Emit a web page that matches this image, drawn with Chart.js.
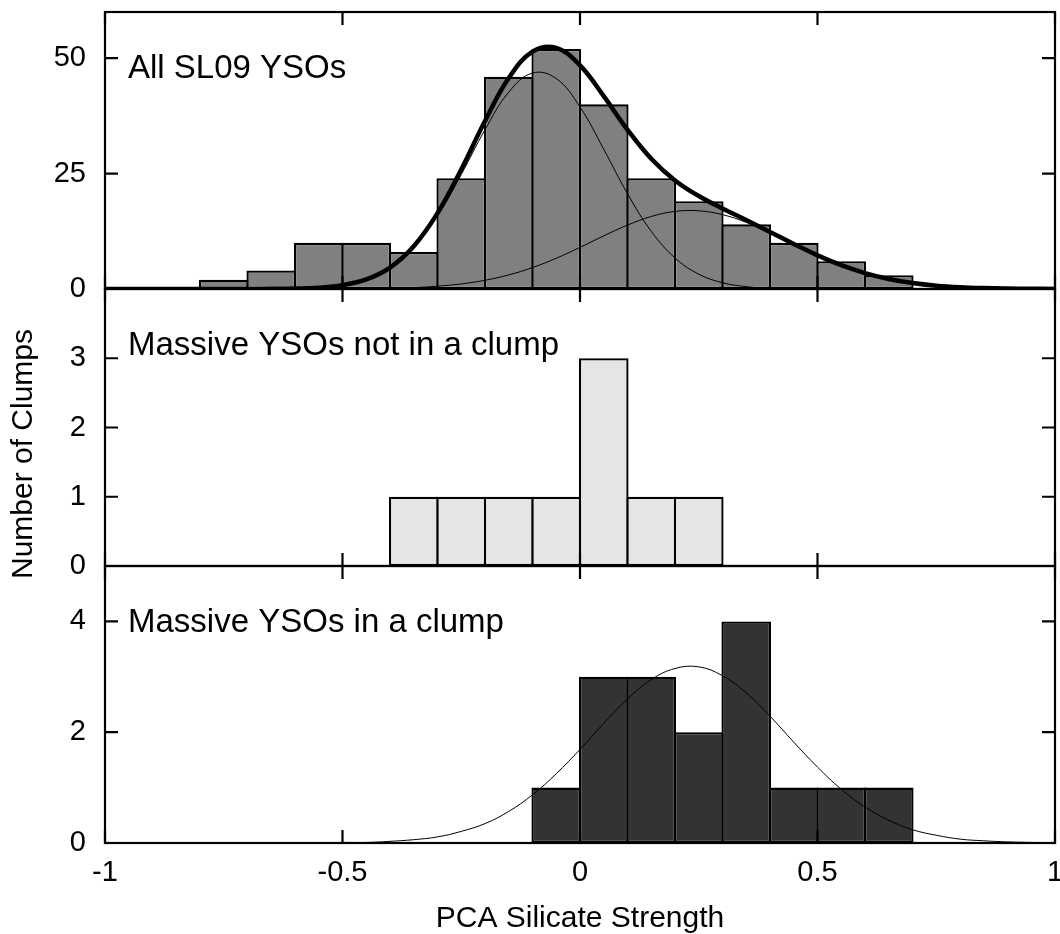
<!DOCTYPE html>
<html>
<head>
<meta charset="utf-8">
<script src="https://cdn.jsdelivr.net/npm/chart.js@4/dist/chart.umd.min.js"></script>
<style>
  html, body { margin: 0; padding: 0; background: #fff; }
  #wrap { width: 1060px; height: 934px; position: relative; }
</style>
</head>
<body>
<div id="wrap"><canvas id="silicate-chart"></canvas></div>
<script>
// histogram bin centres (bins are 0.1 wide) and counts
const allCenters = [-0.75, -0.65, -0.55, -0.45, -0.35, -0.25, -0.15, -0.05, 0.05, 0.15, 0.25, 0.35, 0.45, 0.55, 0.65];
const allCounts = [2, 4, 10, 10, 8, 24, 46, 52, 40, 24, 19, 14, 10, 6, 3];
const freeCenters = [-0.35, -0.25, -0.15, -0.05, 0.05, 0.15, 0.25];
const freeCounts = [1, 1, 1, 1, 3, 1, 1];
const clumpCenters = [-0.05, 0.05, 0.15, 0.25, 0.35, 0.45, 0.55, 0.65];
const clumpCounts = [1, 3, 3, 2, 4, 1, 1, 1];

// fitted curves, every 0.05
const curveX = [-1, -0.95, -0.9, -0.85, -0.8, -0.75, -0.7, -0.65, -0.6, -0.55,
  -0.5, -0.45, -0.4, -0.35, -0.3, -0.25, -0.2, -0.15, -0.1, -0.05,
  0, 0.05, 0.1, 0.15, 0.2, 0.25, 0.3, 0.35, 0.4, 0.45,
  0.5, 0.55, 0.6, 0.65, 0.7, 0.75, 0.8, 0.85, 0.9, 0.95, 1];
const fitTotal = [0, 0, 0, 0, 0, 0, 0.01, 0.03, 0.1, 0.29,
  0.83, 2.08, 4.65, 9.27, 16.43, 25.89, 36.39, 45.69, 51.42, 52.24,
  48.44, 41.78, 34.49, 28.21, 23.52, 20.15, 17.46, 14.94, 12.36, 9.76,
  7.29, 5.16, 3.45, 2.17, 1.29, 0.72, 0.38, 0.19, 0.09, 0.04, 0.02];
const fitNarrow = [0, 0, 0, 0, 0, 0, 0.01, 0.02, 0.09, 0.28,
  0.8, 2.01, 4.5, 8.96, 15.82, 24.79, 34.5, 42.64, 46.78, 45.58,
  39.42, 30.27, 20.65, 12.5, 6.72, 3.21, 1.36, 0.51, 0.17, 0.05,
  0, 0, 0, 0, 0, 0, 0, 0, 0, 0, 0];
const fitWide = [0, 0, 0, 0, 0, 0, 0, 0, 0.01, 0.01,
  0.03, 0.07, 0.15, 0.31, 0.61, 1.1, 1.89, 3.05, 4.64, 6.66,
  9.02, 11.51, 13.84, 15.71, 16.8, 16.94, 16.1, 14.43, 12.19, 9.71,
  7.29, 5.16, 3.45, 2.17, 1.29, 0.72, 0.38, 0.19, 0.09, 0.04, 0.02];
const fitClump = [0, 0, 0, 0, 0, 0, 0, 0, 0, 0,
  0.01, 0.01, 0.03, 0.06, 0.11, 0.21, 0.35, 0.57, 0.87, 1.25,
  1.69, 2.16, 2.6, 2.95, 3.15, 3.18, 3.02, 2.71, 2.29, 1.82,
  1.37, 0.97, 0.65, 0.41, 0.24, 0.14, 0.07, 0.04, 0.02, 0.01, 0];

// ticks and labels
const xTicks = [-1, -0.5, 0, 0.5, 1];
const xTickLabels = ["-1", "-0.5", "0", "0.5", "1"];
const yTicksAll = [0, 25, 50];
const yTicksFree = [0, 1, 2, 3];
const yTicksClump = [0, 2, 4];
const panelLabels = ["All SL09 YSOs", "Massive YSOs not in a clump", "Massive YSOs in a clump"];
const xTitle = "PCA Silicate Strength";
const yTitle = "Number of Clumps";

const FONT = "'Liberation Sans', Arial, Helvetica, sans-serif";
Chart.defaults.font.family = FONT;
Chart.defaults.color = "#000";

const toPoints = (xs, ys) => xs.map((x, i) => ({ x: x, y: ys[i] }));

const panels = [
  { id: "y1", ticks: yTicksAll, label: panelLabels[0] },
  { id: "y2", ticks: yTicksFree, label: panelLabels[1] },
  { id: "y3", ticks: yTicksClump, label: panelLabels[2] },
];

// frame, inward tick marks on all four sides, panel captions, y title
const panelFrames = {
  id: "panelFrames",
  afterDatasetsDraw(chart) {
    const { ctx, chartArea, scales } = chart;
    const left = chartArea.left, right = chartArea.right;
    const tick = 13;
    ctx.save();
    ctx.strokeStyle = "#000";
    ctx.lineWidth = 2.2;
    panels.forEach((p) => {
      const ys = scales[p.id];
      ctx.strokeRect(left, ys.top, right - left, ys.bottom - ys.top);
      ctx.beginPath();
      p.ticks.forEach((v) => {
        const y = ys.getPixelForValue(v);
        ctx.moveTo(left, y); ctx.lineTo(left + tick, y);
        ctx.moveTo(right - tick, y); ctx.lineTo(right, y);
      });
      xTicks.forEach((v) => {
        const x = scales.x.getPixelForValue(v);
        ctx.moveTo(x, ys.top); ctx.lineTo(x, ys.top + tick);
        ctx.moveTo(x, ys.bottom - tick); ctx.lineTo(x, ys.bottom);
      });
      ctx.stroke();
      ctx.fillStyle = "#000";
      ctx.font = "33px " + FONT;
      ctx.textAlign = "left";
      ctx.textBaseline = "alphabetic";
      ctx.fillText(p.label, left + 23, ys.top + 66);
    });
    ctx.translate(24, 454);
    ctx.rotate(-Math.PI / 2);
    ctx.font = "30px " + FONT;
    ctx.textAlign = "center";
    ctx.textBaseline = "middle";
    ctx.fillText(yTitle, 0, 0);
    ctx.restore();
  },
};

function yAxis(max, ticks, weight) {
  return {
    type: "linear",
    position: "left",
    stack: "panels",
    stackWeight: 1,
    weight: weight,
    min: 0,
    max: max,
    grid: { display: false, drawTicks: false },
    border: { display: false },
    afterBuildTicks: (s) => { s.ticks = ticks.map((v) => ({ value: v })); },
    afterFit: (s) => { s.width = 105; s.paddingTop = 0; s.paddingBottom = 0; },
    ticks: { font: { size: 29 }, padding: 19, callback: (v) => String(v) },
  };
}

const barStyle = {
  type: "bar",
  borderColor: "#000",
  borderWidth: 2.3,
  borderSkipped: false,
  barPercentage: 1.045,
  categoryPercentage: 1,
  grouped: false,
  order: 2,
};
const lineStyle = {
  type: "line",
  borderColor: "#000",
  pointRadius: 0,
  tension: 0.4,
  fill: false,
  order: 1,
};

new Chart(document.getElementById("silicate-chart"), {
  type: "bar",
  data: {
    datasets: [
      { ...barStyle, label: "All", data: toPoints(allCenters, allCounts), backgroundColor: "#808080", yAxisID: "y1" },
      { ...barStyle, label: "Free", data: toPoints(freeCenters, freeCounts), backgroundColor: "#e5e5e5", yAxisID: "y2" },
      { ...barStyle, label: "Clump", data: toPoints(clumpCenters, clumpCounts), backgroundColor: "#333333", yAxisID: "y3" },
      { ...lineStyle, label: "Narrow", data: toPoints(curveX, fitNarrow), borderWidth: 1, yAxisID: "y1" },
      { ...lineStyle, label: "Wide", data: toPoints(curveX, fitWide), borderWidth: 1, yAxisID: "y1" },
      { ...lineStyle, label: "Total", data: toPoints(curveX, fitTotal), borderWidth: 4.5, yAxisID: "y1" },
      { ...lineStyle, label: "Clump fit", data: toPoints(curveX, fitClump), borderWidth: 1, yAxisID: "y3" },
    ],
  },
  options: {
    responsive: true,
    maintainAspectRatio: false,
    animation: false,
    devicePixelRatio: 1,
    layout: { padding: { top: 12, right: 5, left: 0, bottom: 0 } },
    plugins: { legend: { display: false }, tooltip: { enabled: false } },
    scales: {
      x: {
        type: "linear",
        position: "bottom",
        min: -1,
        max: 1,
        offset: false,
        grid: { display: false, drawTicks: false, offset: false },
        border: { display: false },
        afterBuildTicks: (s) => { s.ticks = xTicks.map((v) => ({ value: v })); },
        afterFit: (s) => { s.height = 91; s.paddingLeft = 0; s.paddingRight = 0; },
        ticks: { font: { size: 29 }, padding: 13, maxRotation: 0, autoSkip: false,
          callback: (v, i) => xTickLabels[i] },
        title: { display: true, text: xTitle, font: { size: 30, lineHeight: 1 }, padding: { top: 0, bottom: 0 } },
      },
      y1: yAxis(60, yTicksAll, 3),
      y2: yAxis(4, yTicksFree, 2),
      y3: yAxis(5, yTicksClump, 1),
    },
  },
  plugins: [panelFrames],
});
</script>
</body>
</html>
